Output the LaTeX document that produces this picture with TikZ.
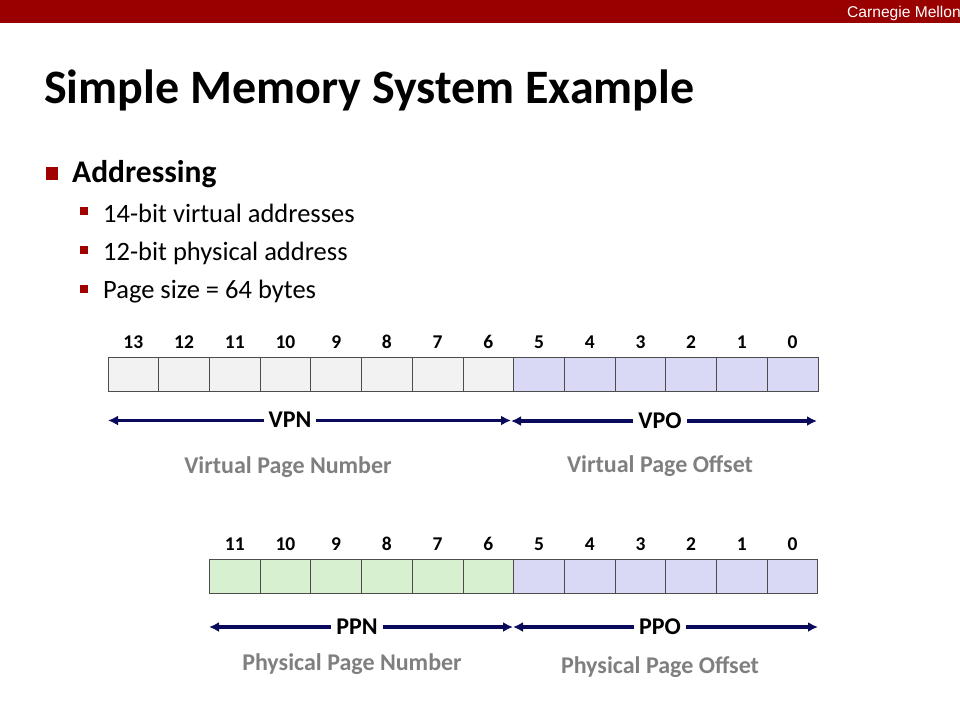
\documentclass[tikz,border=0pt]{standalone}
\usepackage{fontspec}
\setmainfont{Carlito}
\newfontfamily\arialfont{Liberation Sans}
\usetikzlibrary{arrows.meta}
\definecolor{cmured}{HTML}{990000}
\definecolor{bulletred}{HTML}{A00000}
\definecolor{vgray}{HTML}{F2F2F2}
\definecolor{offpurple}{HTML}{D9D9F5}
\definecolor{pgreen}{HTML}{D7F0D0}
\definecolor{navy}{HTML}{0A0A5C}
\definecolor{labgray}{HTML}{7F7F7F}
\tikzset{
  cell/.style={draw=black!70, line width=0.9pt, minimum width=50.71pt, minimum height=34pt, inner sep=0pt},
  bitnum/.style={font=\bfseries\fontsize{19.5}{19.5}\selectfont, inner sep=0pt, anchor=base},
  arr/.style={draw=navy, line width=3.2pt, {Latex[length=10pt,width=10pt]}-{Latex[length=10pt,width=10pt]}},
  fieldlab/.style={font=\bfseries\fontsize{24}{24}\selectfont, fill=white, inner xsep=5pt, inner ysep=1pt, anchor=base},
  desclab/.style={font=\bfseries\fontsize{24}{24}\selectfont, text=labgray, inner sep=0pt, anchor=base},
  subitem/.style={font=\fontsize{26.5}{26.5}\selectfont, anchor=base west, inner sep=0pt},
}
\begin{document}
\begin{tikzpicture}[x=1pt,y=-1pt]
\useasboundingbox (0,0) rectangle (960,720);
\fill[cmured] (0,0) rectangle (960,23);
\node[anchor=base east, text=white, font=\arialfont\fontsize{15.6}{15.6}\selectfont, inner sep=0pt] (cmu) at (961,17) {Carnegie Mellon};
\node[anchor=base west, font=\bfseries\fontsize{48}{48}\selectfont, inner sep=0pt] (title) at (44,103) {Simple Memory System Example};
% bullets
\fill[bulletred] (46,167) rectangle (58,180);
\node[anchor=base west, font=\bfseries\fontsize{31.5}{31.5}\selectfont, inner sep=0pt] (addr) at (72,182) {Addressing};
\fill[bulletred] (80,207) rectangle (88,215);
\node[subitem] (s1) at (103,222) {14-bit virtual addresses};
\fill[bulletred] (80,246) rectangle (88,254);
\node[subitem] (s2) at (103,260) {12-bit physical address};
\fill[bulletred] (80,285) rectangle (88,293);
\node[subitem] (s3) at (103,298.5) {Page size = 64 bytes};
% virtual address cells
\foreach \i in {0,...,13}{
  \pgfmathtruncatemacro{\b}{13-\i}
  \ifnum\i<8 \def\cc{vgray}\else\def\cc{offpurple}\fi
  \node[cell, fill=\cc] (v\i) at ({108+(\i+0.5)*50.71},374.5) {};
  \node[bitnum] (vb\i) at ({108+(\i+0.5)*50.71},348.5) {\b};
}
\coordinate (vl) at (108,420.5);
\coordinate (vm) at (511,420.5);
\coordinate (vm2) at (511,421);
\coordinate (vr) at (817,421);
\draw[arr] (vl) -- (vm);
\draw[arr] (vm2) -- (vr);
\node[fieldlab] (vpn) at (290,427.5) {VPN};
\node[fieldlab] (vpo) at (660,428.5) {VPO};
\node[desclab] (vpnd) at (288,473) {Virtual Page Number};
\node[desclab] (vpod) at (660,472) {Virtual Page Offset};
% physical address cells
\foreach \i in {0,...,11}{
  \pgfmathtruncatemacro{\b}{11-\i}
  \ifnum\i<6 \def\cc{pgreen}\else\def\cc{offpurple}\fi
  \node[cell, fill=\cc] (p\i) at ({209.4+(\i+0.5)*50.71},576) {};
  \node[bitnum] (pb\i) at ({209.4+(\i+0.5)*50.71},550) {\b};
}
\coordinate (pl) at (209,627);
\coordinate (pm) at (513,627);
\coordinate (pm2) at (513,627);
\coordinate (pr) at (818,627);
\draw[arr] (pl) -- (pm);
\draw[arr] (pm2) -- (pr);
\node[fieldlab] (ppn) at (357,634.5) {PPN};
\node[fieldlab] (ppo) at (660,634.5) {PPO};
\node[desclab] (ppnd) at (352,670) {Physical Page Number};
\node[desclab] (ppod) at (660,673) {Physical Page Offset};
\end{tikzpicture}
\end{document}
